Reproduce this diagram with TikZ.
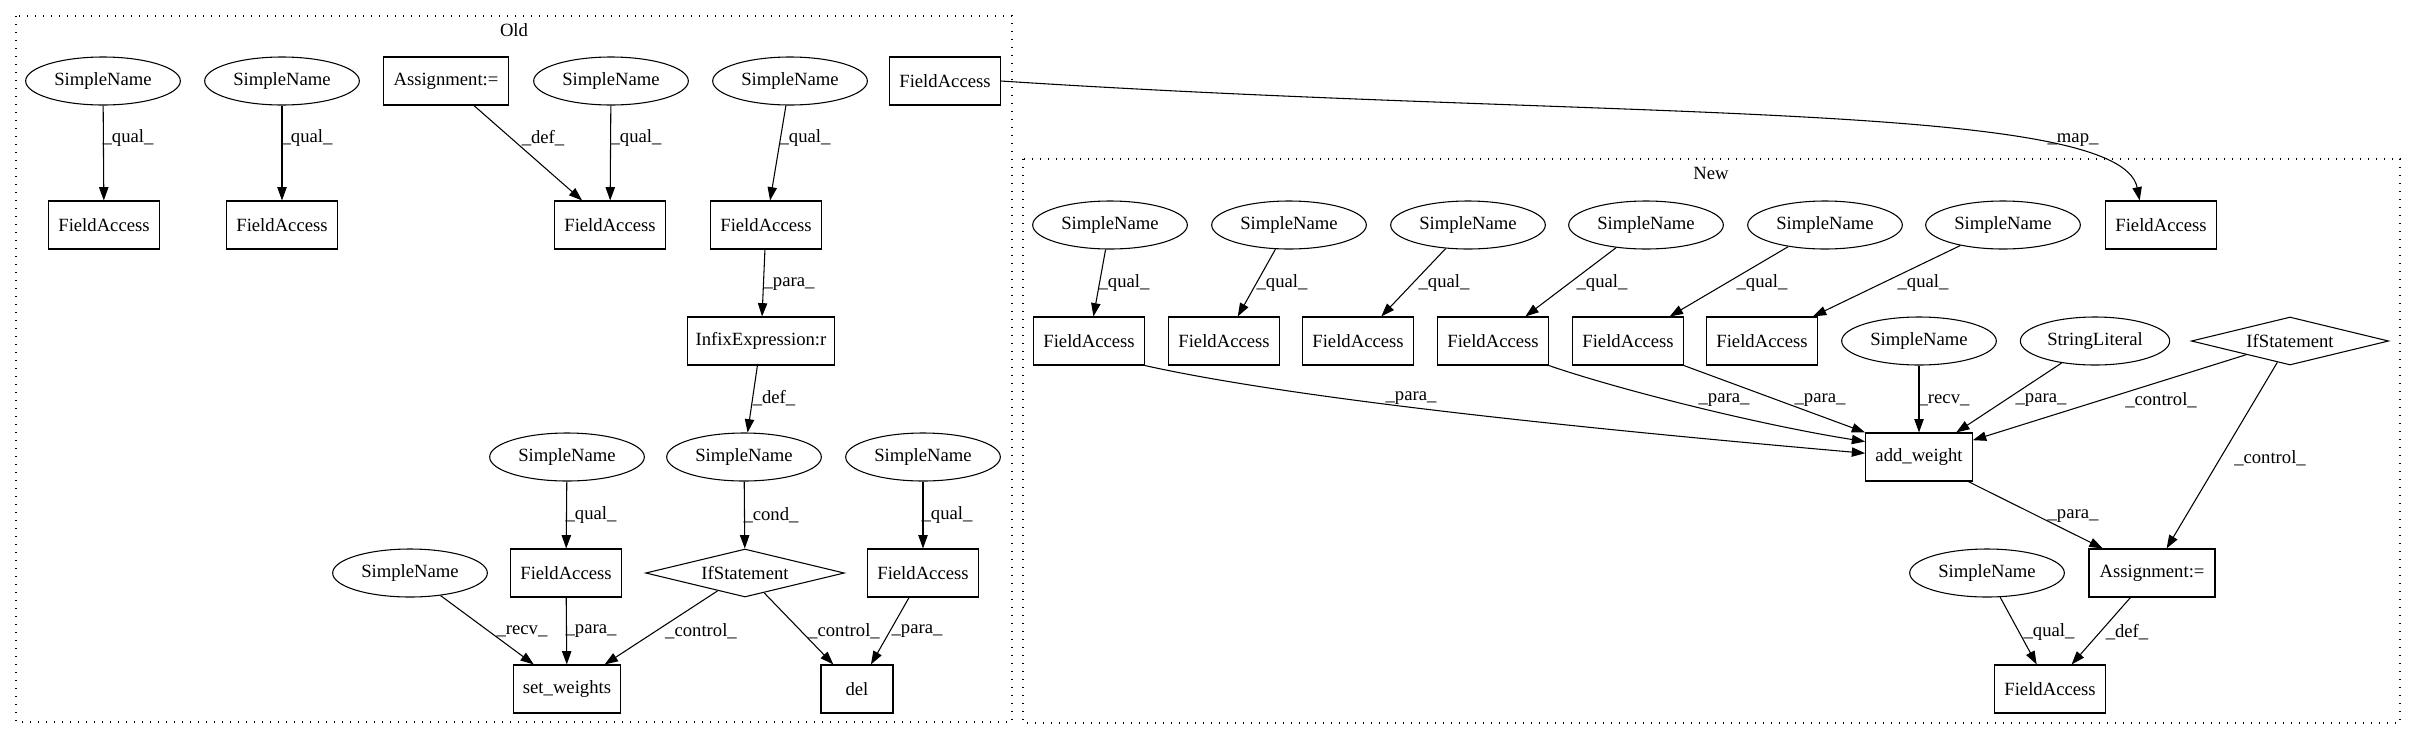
\documentclass[tikz,border=0pt]{standalone}
\usepackage{fontspec}
\setmainfont{Liberation Serif}
\usetikzlibrary{shapes.geometric,arrows.meta}
\tikzset{
	sname/.style={draw, ellipse, minimum width=116pt, minimum height=36pt, inner sep=0pt},
	abox/.style={draw, rectangle, minimum width=#1, minimum height=36pt, inner sep=0pt},
	abox/.default=83pt,
	ifdia/.style={draw, diamond, aspect=4.1, minimum width=149pt, minimum height=36pt, inner sep=0pt},
	flow/.style={-{Triangle[length=10pt,width=7pt]}, line width=0.8pt},
	elab/.style={inner sep=0pt},
	clus/.style={dash pattern=on 1pt off 5pt, line width=1pt}
}

\begin{document}
\begin{tikzpicture}[x=0.75pt, y=-0.75pt, font=\fontsize{14pt}{16pt}\selectfont, line width=0.8pt]
			%%%%% START %%%%%
			\useasboundingbox (0,0) rectangle (2416,740);
			
			\draw[clus] (16,16) rectangle (1012,722);
			\node (oldt) at (514,30) {Old};
			\draw[clus] (1023,159) rectangle (2400,723);
			\node (newt) at (1711,173) {New};
			
			%%%%% OLD %%%%%
			\node[sname] (osn1) at (103,81) {SimpleName};
			\node[sname] (osn2) at (282,81) {SimpleName};
			\node[abox=94pt] (oasg) at (446,81) {Assignment:=};
			\node[sname] (osn3) at (611,81) {SimpleName};
			\node[sname] (osn4) at (790,81) {SimpleName};
			\node[abox] (ofam) at (945,81) {FieldAccess};
			
			\node[abox] (ofa1) at (104,225) {FieldAccess};
			\node[abox] (ofa2) at (282,225) {FieldAccess};
			\node[abox] (ofa3) at (610,225) {FieldAccess};
			\node[abox] (ofa4) at (766,225) {FieldAccess};
			
			\node[abox=110pt] (oinf) at (761,341) {InfixExpression:r};
			
			\node[sname] (osn5) at (567,457) {SimpleName};
			\node[sname] (osn6) at (744,457) {SimpleName};
			\node[sname] (osn7) at (923,457) {SimpleName};
			
			\node[sname] (osn8) at (410,573) {SimpleName};
			\node[abox] (ofa5) at (566,573) {FieldAccess};
			\node[ifdia] (oif) at (745,573) {IfStatement};
			\node[abox] (ofa6) at (923,573) {FieldAccess};
			
			\node[abox=80pt] (oset) at (567,689) {set\_weights};
			\node[abox=54pt] (odel) at (857,689) {del};
			
			\draw[flow] (osn1) -- (ofa1);
			\draw[flow] (osn2) -- (ofa2);
			\draw[flow] (oasg) -- (ofa3);
			\draw[flow] (osn3) -- (ofa3);
			\draw[flow] (osn4) -- (ofa4);
			\draw[flow] (ofa4) -- (oinf);
			\draw[flow] (oinf) -- (osn6);
			\draw[flow] (osn5) -- (ofa5);
			\draw[flow] (osn6) -- (oif);
			\draw[flow] (osn7) -- (ofa6);
			\draw[flow] (osn8) -- (oset);
			\draw[flow] (ofa5) -- (oset);
			\draw[flow] (oif) -- (oset);
			\draw[flow] (oif) -- (odel);
			\draw[flow] (ofa6) -- (odel);
			
			\node[elab] (ol1) at (128,138) {\_qual\_};
			\node[elab] (ol2) at (307,138) {\_qual\_};
			\node[elab] (ol3) at (543,138) {\_def\_};
			\node[elab] (ol4) at (636,138) {\_qual\_};
			\node[elab] (ol5) at (805,138) {\_qual\_};
			\node[elab] (ol6) at (789,284) {\_para\_};
			\node[elab] (ol7) at (774,398) {\_def\_};
			\node[elab] (ol8) at (591,515) {\_qual\_};
			\node[elab] (ol9) at (771,515) {\_cond\_};
			\node[elab] (ol10) at (947,515) {\_qual\_};
			\node[elab] (ol11) at (522,631) {\_recv\_};
			\node[elab] (ol12) at (591,631) {\_para\_};
			\node[elab] (ol13) at (701,631) {\_control\_};
			\node[elab] (ol14) at (844,631) {\_control\_};
			\node[elab] (ol15) at (917,631) {\_para\_};
			
			%%%%% NEW %%%%%
			\node[sname] (nsn1) at (1110,225) {SimpleName};
			\node[sname] (nsn2) at (1289,225) {SimpleName};
			\node[sname] (nsn3) at (1468,225) {SimpleName};
			\node[sname] (nsn4) at (1646,225) {SimpleName};
			\node[sname] (nsn5) at (1825,225) {SimpleName};
			\node[sname] (nsn6) at (2003,225) {SimpleName};
			\node[abox] (nfam) at (2161,225) {FieldAccess};
			
			\node[abox] (nfa1) at (1089,341) {FieldAccess};
			\node[abox] (nfa2) at (1224,341) {FieldAccess};
			\node[abox] (nfa3) at (1358,341) {FieldAccess};
			\node[abox] (nfa4) at (1493,341) {FieldAccess};
			\node[abox] (nfa5) at (1628,341) {FieldAccess};
			\node[abox] (nfa6) at (1762,341) {FieldAccess};
			\node[sname] (nsn7) at (1919,341) {SimpleName};
			\node[sname, minimum width=112pt] (nstr) at (2095,341) {StringLiteral};
			\node[ifdia, minimum width=148pt] (nif) at (2290,341) {IfStatement};
			
			\node[abox=80pt] (nadd) at (1919,457) {add\_weight};
			
			\node[sname] (nsn8) at (1987,573) {SimpleName};
			\node[abox=94.5pt] (nasg) at (2152,573) {Assignment:=};
			
			\node[abox] (nfa7) at (2050,689) {FieldAccess};
			
			\draw[flow] (nsn1) -- (nfa1);
			\draw[flow] (nsn2) -- (nfa2);
			\draw[flow] (nsn3) -- (nfa3);
			\draw[flow] (nsn4) -- (nfa4);
			\draw[flow] (nsn5) -- (nfa5);
			\draw[flow] (nsn6) -- (nfa6);
			
			\draw[flow] (nfa1.south east) .. controls (1300,400) and (1600,430) .. (nadd.176);
			\draw[flow] (nfa4.south east) .. controls (1620,390) and (1760,425) .. (nadd.164);
			\draw[flow] (nfa5.south east) -- (nadd.north west);
			\draw[flow] (nsn7) -- (nadd);
			\draw[flow] (nstr) -- (nadd);
			\draw[flow] (nif) -- (nadd);
			\draw[flow] (nif) -- (nasg);
			\draw[flow] (nadd) -- (nasg);
			\draw[flow] (nsn8) -- (nfa7);
			\draw[flow] (nasg) -- (nfa7);
			
			\node[elab] (nl1) at (1124,283) {\_qual\_};
			\node[elab] (nl2) at (1282,283) {\_qual\_};
			\node[elab] (nl3) at (1444,283) {\_qual\_};
			\node[elab] (nl4) at (1602,283) {\_qual\_};
			\node[elab] (nl5) at (1762,283) {\_qual\_};
			\node[elab] (nl6) at (1923,283) {\_qual\_};
			\node[elab] (nl7) at (1411,398) {\_para\_};
			\node[elab] (nl8) at (1724,400) {\_para\_};
			\node[elab] (nl9) at (1820,400) {\_para\_};
			\node[elab] (nl10) at (1944,400) {\_recv\_};
			\node[elab] (nl11) at (2041,400) {\_para\_};
			\node[elab] (nl12) at (2161,400) {\_control\_};
			\node[elab] (nl13) at (2270,458) {\_control\_};
			\node[elab] (nl14) at (2073,516) {\_para\_};
			\node[elab] (nl15) at (2049,632) {\_qual\_};
			\node[elab] (nl16) at (2127,632) {\_def\_};
			
			%%%%% MAP %%%%%
			\draw[flow] (ofam.east) .. controls (1600,120) and (2120,100) .. (nfam.131);
			\node[elab] (mapl) at (2073,140) {\_map\_};
			
			%%%%% END %%%%%
\end{tikzpicture}
\end{document}
